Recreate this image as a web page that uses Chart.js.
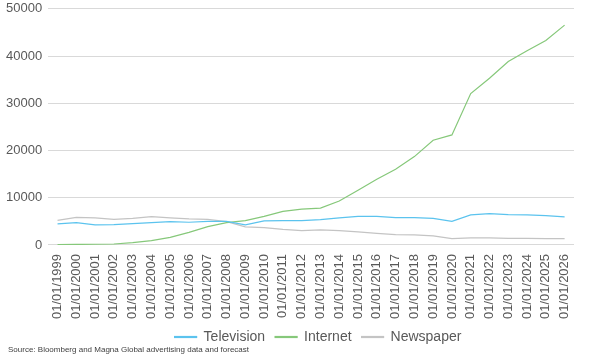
<!DOCTYPE html>
<html>
<head>
<meta charset="utf-8">
<script src="https://cdn.jsdelivr.net/npm/chart.js@4"></script>
<style>
html,body{margin:0;padding:0;background:#fff;overflow:hidden;}
#wrap{position:relative;width:600px;height:356px;overflow:hidden;}
#c{position:absolute;left:0;top:-5px;}
#src{position:absolute;left:8px;top:345px;font-family:"Liberation Sans",Arial,sans-serif;font-size:8px;color:#404040;white-space:nowrap;}
</style>
</head>
<body>
<div id="wrap">
<canvas id="c" width="600" height="361"></canvas>
<div id="src">Source: Bloomberg and Magna Global advertising data and forecast</div>
</div>
<script>
const categories = ["01/01/1999","01/01/2000","01/01/2001","01/01/2002","01/01/2003","01/01/2004","01/01/2005","01/01/2006","01/01/2007","01/01/2008","01/01/2009","01/01/2010","01/01/2011","01/01/2012","01/01/2013","01/01/2014","01/01/2015","01/01/2016","01/01/2017","01/01/2018","01/01/2019","01/01/2020","01/01/2021","01/01/2022","01/01/2023","01/01/2024","01/01/2025","01/01/2026"];
const television = [4450,4720,4240,4300,4500,4720,4940,4800,5000,5000,4240,5080,5150,5150,5360,5720,6060,6060,5780,5780,5640,5000,6360,6630,6420,6360,6200,5930];
const internet = [50,100,150,200,500,900,1610,2670,3880,4720,5150,6060,7120,7600,7800,9300,11590,13900,16040,18700,22180,23300,32050,35300,38840,41100,43300,46540];
const newspaper = [5220,5850,5720,5430,5640,6000,5720,5500,5430,4940,3810,3670,3300,3030,3180,3030,2750,2460,2180,2110,1900,1330,1480,1480,1400,1400,1330,1330];
const yTicks = [0,10000,20000,30000,40000,50000];

const FONT = '"Liberation Sans", Arial, sans-serif';
const legendShift = {
  id:'legendShift',
  afterLayout(chart){ if (chart.legend){ chart.legend.left += 31; chart.legend.right += 31; } }
};
new Chart(document.getElementById('c'), {
  type: 'line',
  data: {
    labels: categories,
    datasets: [
      {label:'Television', data: television, borderColor:'#5BC3EE', backgroundColor:'#5BC3EE', borderWidth:1.2, pointRadius:0, tension:0},
      {label:'Internet', data: internet, borderColor:'#86C87A', backgroundColor:'#86C87A', borderWidth:1.2, pointRadius:0, tension:0},
      {label:'Newspaper', data: newspaper, borderColor:'#C4C4C4', backgroundColor:'#C4C4C4', borderWidth:1.2, pointRadius:0, tension:0}
    ]
  },
  plugins:[legendShift],
  options: {
    responsive:false,
    animation:false,
    layout:{padding:{left:0,right:26,top:0,bottom:2}},
    plugins:{
      legend:{position:'bottom', labels:{font:{family:FONT,size:14}, color:'#595959', boxWidth:22, boxHeight:1, padding:10}},
      tooltip:{enabled:false}
    },
    scales:{
      x:{offset:true, grid:{display:false}, border:{display:false},
         ticks:{font:{family:FONT,size:13}, color:'#595959', maxRotation:90, minRotation:90, autoSkip:false, padding:1}},
      y:{min:0, max:50000, afterBuildTicks:(ax)=>{ax.ticks = yTicks.map(v=>({value:v}));},
         grid:{color:'#D9D9D9', lineWidth:1, drawTicks:false}, border:{display:false},
         ticks:{font:{family:FONT,size:13}, color:'#595959', padding:6, callback:(v)=>String(v)}}
    }
  }
});
</script>
</body>
</html>
